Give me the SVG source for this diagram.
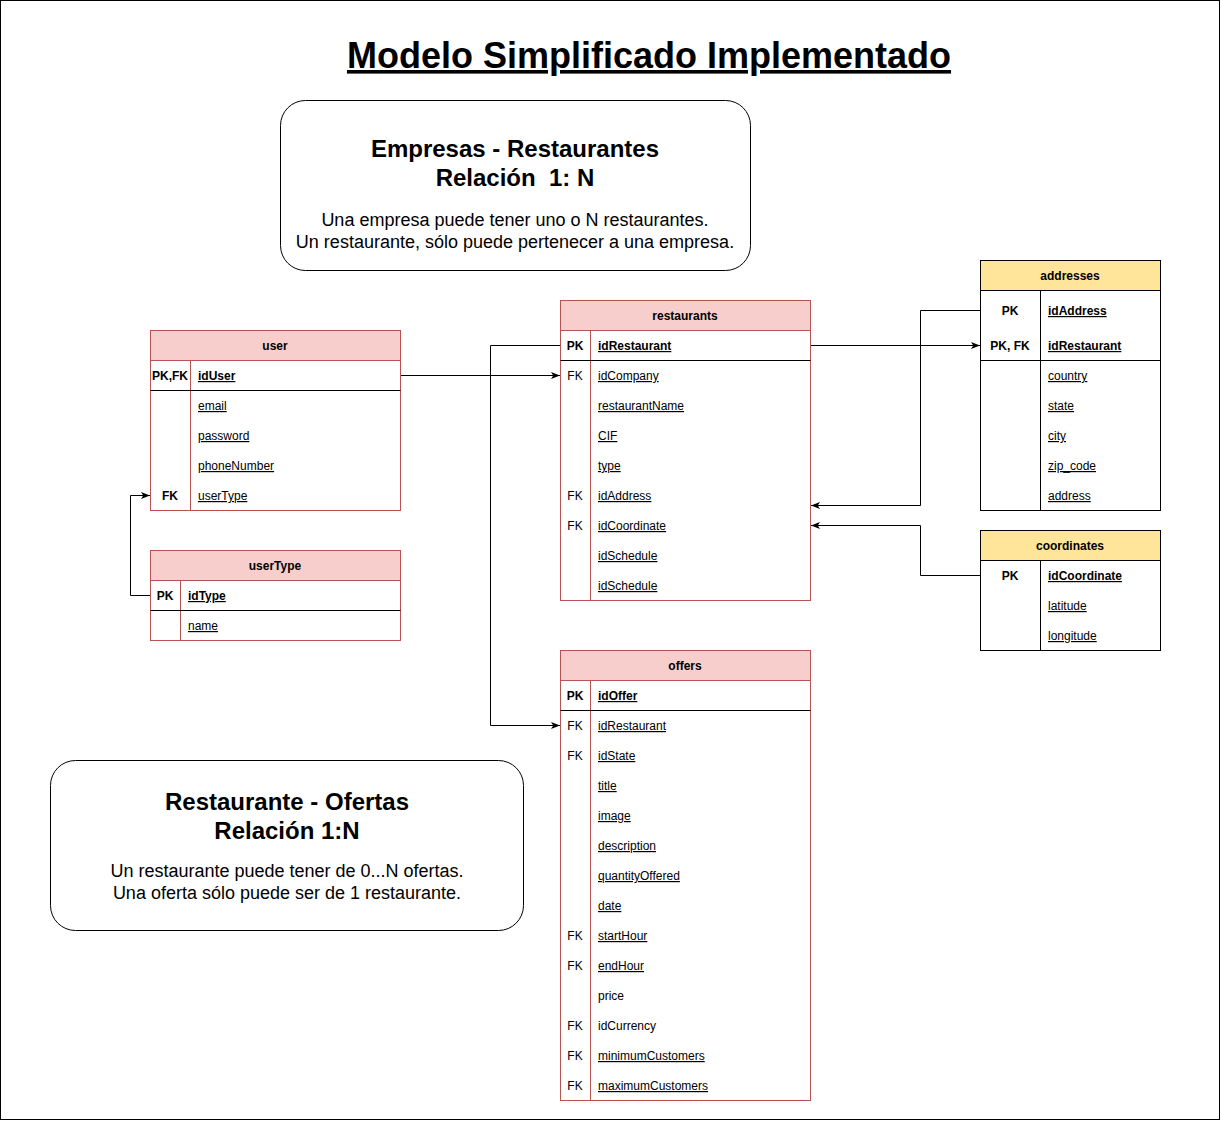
<svg xmlns="http://www.w3.org/2000/svg" width="1221" height="1121" viewBox="0 0 1221 1121">
<style>
text{font-family:"Liberation Sans",Arial,Helvetica,sans-serif;fill:#000}
.t{font-size:12px}
.h{font-size:12px;font-weight:bold;text-anchor:middle}
.k{font-size:12px;text-anchor:middle}
.kb{font-size:12px;font-weight:bold;text-anchor:middle}
.f{font-size:12px;text-decoration:underline}
.fb{font-size:12px;font-weight:bold;text-decoration:underline}
.red{fill:#fff;stroke:#b85450;stroke-width:1}
.redh{fill:#f8cecc;stroke:#b85450;stroke-width:1}
.yel{fill:#fff;stroke:#000;stroke-width:1}
.yelh{fill:#ffe599;stroke:#000;stroke-width:1}
.rl{stroke:#b85450;stroke-width:1;fill:none}
.bl{stroke:#000;stroke-width:1;fill:none}
.conn{stroke:#000;stroke-width:1;fill:none;marker-end:url(#arr)}
.note{fill:#fff;stroke:#000;stroke-width:1}
.nt{font-size:24px;font-weight:bold;text-anchor:middle}
.nb{font-size:18px;text-anchor:middle}
</style>
<defs>
<marker id="arr" viewBox="0 0 10 10" refX="10" refY="5" markerWidth="9" markerHeight="9" markerUnits="userSpaceOnUse" orient="auto">
<path d="M0,1 L10,5 L0,9 L2.5,5 z" fill="#000"/>
</marker>
</defs>
<rect x="0.5" y="0.5" width="1219" height="1119" fill="#fff" stroke="#000" stroke-width="1"/>

<g id="title">
<text x="649" y="68" style="font-size:36px;font-weight:bold;text-anchor:middle;text-decoration:underline">Modelo Simplificado Implementado</text>
</g>

<g id="note-empresas">
<rect class="note" x="280.5" y="100.5" width="470" height="170" rx="25" ry="25"/>
<text class="nt" x="515" y="157">Empresas - Restaurantes</text>
<text class="nt" x="515" y="186" xml:space="preserve">Relación  1: N</text>
<text class="nb" x="515" y="226">Una empresa puede tener uno o N restaurantes.</text>
<text class="nb" x="515" y="248">Un restaurante, sólo puede pertenecer a una empresa.</text>
</g>

<g id="note-ofertas">
<rect class="note" x="50.5" y="760.5" width="473" height="170" rx="25" ry="25"/>
<text class="nt" x="287" y="810">Restaurante - Ofertas</text>
<text class="nt" x="287" y="839">Relación 1:N</text>
<text class="nb" x="287" y="877">Un restaurante puede tener de 0...N ofertas.</text>
<text class="nb" x="287" y="899">Una oferta sólo puede ser de 1 restaurante.</text>
</g>

<g id="connectors">
<path class="conn" d="M400.5,375.5 H560"/>
<path class="conn" d="M560,345.5 H490.5 V725.5 H560"/>
<path class="conn" d="M810.5,345.5 H980"/>
<path class="conn" d="M980,310.5 H920.5 V505.5 H811"/>
<path class="conn" d="M980,575.5 H920.5 V525.5 H811"/>
<path class="conn" d="M150,595.5 H130.5 V495.5 H150"/>
</g>

<g id="user">
<rect class="red" x="150.5" y="330.5" width="250" height="180"/>
<rect class="redh" x="150.5" y="330.5" width="250" height="30"/>
<line class="rl" x1="190.5" y1="360.5" x2="190.5" y2="510.5"/>
<line class="bl" x1="150.5" y1="390.5" x2="400.5" y2="390.5"/>
<text class="h" x="275" y="350">user</text>
<text class="kb" x="170" y="380">PK,FK</text>
<text class="fb" x="198" y="380">idUser</text>
<text class="f" x="198" y="410">email</text>
<text class="f" x="198" y="440">password</text>
<text class="f" x="198" y="470">phoneNumber</text>
<text class="kb" x="170" y="500">FK</text>
<text class="f" x="198" y="500">userType</text>
</g>

<g id="userType">
<rect class="red" x="150.5" y="550.5" width="250" height="90"/>
<rect class="redh" x="150.5" y="550.5" width="250" height="30"/>
<line class="rl" x1="180.5" y1="580.5" x2="180.5" y2="640.5"/>
<line class="bl" x1="150.5" y1="610.5" x2="400.5" y2="610.5"/>
<text class="h" x="275" y="570">userType</text>
<text class="kb" x="165" y="600">PK</text>
<text class="fb" x="188" y="600">idType</text>
<text class="f" x="188" y="630">name</text>
</g>

<g id="restaurants">
<rect class="red" x="560.5" y="300.5" width="250" height="300"/>
<rect class="redh" x="560.5" y="300.5" width="250" height="30"/>
<line class="rl" x1="590.5" y1="330.5" x2="590.5" y2="600.5"/>
<line class="bl" x1="560.5" y1="360.5" x2="810.5" y2="360.5"/>
<text class="h" x="685" y="320">restaurants</text>
<text class="kb" x="575" y="350">PK</text>
<text class="fb" x="598" y="350">idRestaurant</text>
<text class="k" x="575" y="380">FK</text>
<text class="f" x="598" y="380">idCompany</text>
<text class="f" x="598" y="410">restaurantName</text>
<text class="f" x="598" y="440">CIF</text>
<text class="f" x="598" y="470">type</text>
<text class="k" x="575" y="500">FK</text>
<text class="f" x="598" y="500">idAddress</text>
<text class="k" x="575" y="530">FK</text>
<text class="f" x="598" y="530">idCoordinate</text>
<text class="f" x="598" y="560">idSchedule</text>
<text class="f" x="598" y="590">idSchedule</text>
</g>

<g id="offers">
<rect class="red" x="560.5" y="650.5" width="250" height="450"/>
<rect class="redh" x="560.5" y="650.5" width="250" height="30"/>
<line class="rl" x1="590.5" y1="680.5" x2="590.5" y2="1100.5"/>
<line class="bl" x1="560.5" y1="710.5" x2="810.5" y2="710.5"/>
<text class="h" x="685" y="670">offers</text>
<text class="kb" x="575" y="700">PK</text>
<text class="fb" x="598" y="700">idOffer</text>
<text class="k" x="575" y="730">FK</text>
<text class="f" x="598" y="730">idRestaurant</text>
<text class="k" x="575" y="760">FK</text>
<text class="f" x="598" y="760">idState</text>
<text class="f" x="598" y="790">title</text>
<text class="f" x="598" y="820">image</text>
<text class="f" x="598" y="850">description</text>
<text class="f" x="598" y="880">quantityOffered</text>
<text class="f" x="598" y="910">date</text>
<text class="k" x="575" y="940">FK</text>
<text class="f" x="598" y="940">startHour</text>
<text class="k" x="575" y="970">FK</text>
<text class="f" x="598" y="970">endHour</text>
<text class="t" x="598" y="1000">price</text>
<text class="k" x="575" y="1030">FK</text>
<text class="t" x="598" y="1030">idCurrency</text>
<text class="k" x="575" y="1060">FK</text>
<text class="f" x="598" y="1060">minimumCustomers</text>
<text class="k" x="575" y="1090">FK</text>
<text class="f" x="598" y="1090">maximumCustomers</text>
</g>

<g id="addresses">
<rect class="yel" x="980.5" y="260.5" width="180" height="250"/>
<rect class="yelh" x="980.5" y="260.5" width="180" height="30"/>
<line class="bl" x1="1040.5" y1="290.5" x2="1040.5" y2="510.5"/>
<line class="bl" x1="980.5" y1="360.5" x2="1160.5" y2="360.5"/>
<text class="h" x="1070" y="280">addresses</text>
<text class="kb" x="1010" y="315">PK</text>
<text class="fb" x="1048" y="315">idAddress</text>
<text class="kb" x="1010" y="350">PK, FK</text>
<text class="fb" x="1048" y="350">idRestaurant</text>
<text class="f" x="1048" y="380">country</text>
<text class="f" x="1048" y="410">state</text>
<text class="f" x="1048" y="440">city</text>
<text class="f" x="1048" y="470">zip_code</text>
<text class="f" x="1048" y="500">address</text>
</g>

<g id="coordinates">
<rect class="yel" x="980.5" y="530.5" width="180" height="120"/>
<rect class="yelh" x="980.5" y="530.5" width="180" height="30"/>
<line class="bl" x1="1040.5" y1="560.5" x2="1040.5" y2="650.5"/>
<text class="h" x="1070" y="550">coordinates</text>
<text class="kb" x="1010" y="580">PK</text>
<text class="fb" x="1048" y="580">idCoordinate</text>
<text class="f" x="1048" y="610">latitude</text>
<text class="f" x="1048" y="640">longitude</text>
</g>
</svg>
